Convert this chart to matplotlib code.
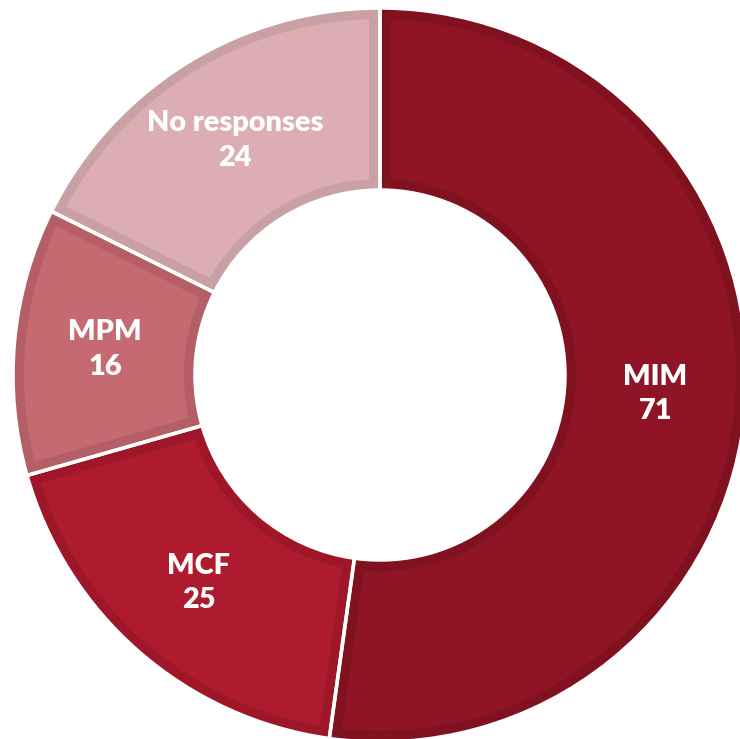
import matplotlib
matplotlib.use("Agg")
import matplotlib.pyplot as plt
from matplotlib.patches import Wedge
import numpy as np

categories = ["MIM", "MCF", "MPM", "No responses"]
values = [71, 25, 16, 24]
fill_colors = ["#8F1426", "#AE1A2E", "#C56A71", "#DCAEB1"]
border_colors = ["#80111F", "#9E1729", "#B45F66", "#C9A1A4"]

W, H = 740, 739
fig = plt.figure(figsize=(W / 100, H / 100), dpi=100)
ax = fig.add_axes([0, 0, 1, 1])

cx, cy = 380, H - 375
R_out, R_in = 367, 185

wedges, _ = ax.pie(values, colors=fill_colors, startangle=90, counterclock=False,
                   radius=R_out, center=(cx, cy),
                   wedgeprops=dict(width=R_out - R_in, linewidth=0))

px = 72 / 100
for w, bc in zip(wedges, border_colors):
    b = Wedge(w.center, w.r, w.theta1, w.theta2, width=w.width,
              facecolor="none", edgecolor=bc, linewidth=22 * px)
    ax.add_patch(b)
    b.set_clip_path(w)
for w in wedges:
    s = Wedge(w.center, w.r, w.theta1, w.theta2, width=w.width,
              facecolor="none", edgecolor="white", linewidth=3.5 * px)
    ax.add_patch(s)

for w, cat, v in zip(wedges, categories, values):
    ang = np.deg2rad((w.theta1 + w.theta2) / 2)
    r = w.r - w.width / 2
    x = w.center[0] + r * np.cos(ang)
    y = w.center[1] + r * np.sin(ang)
    ax.text(x, y, f"{cat}\n{v}", ha="center", va="center", color="white",
            fontsize=20.8, fontweight="heavy", family=["Lato", "DejaVu Sans"],
            linespacing=1.4)

ax.set_xlim(0, W)
ax.set_ylim(0, H)
ax.set_aspect("equal")
ax.axis("off")
fig.savefig("out.png", dpi=100)
